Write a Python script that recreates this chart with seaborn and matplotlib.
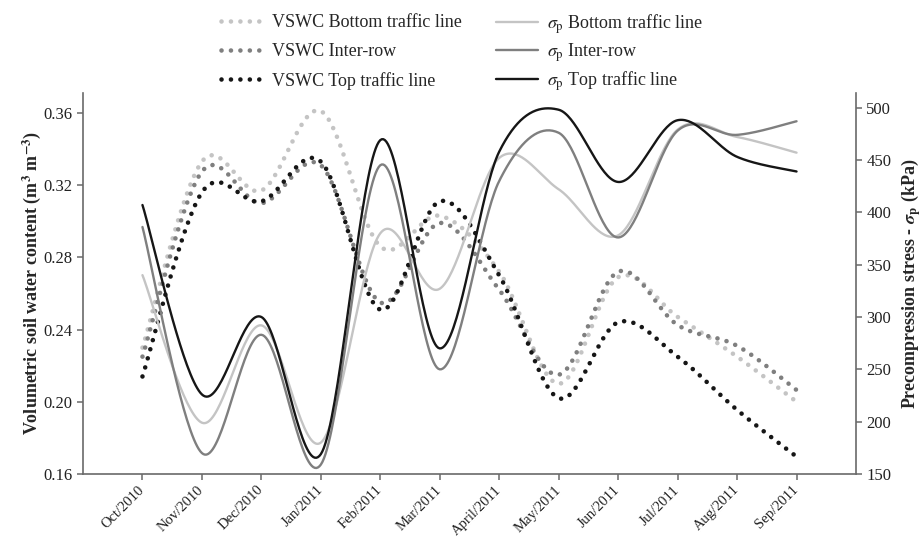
import numpy as np
import pandas as pd
import matplotlib
matplotlib.use("Agg")
import matplotlib.pyplot as plt
import seaborn as sns

# monthly readings, Oct/2010 .. Sep/2011
months = ["Oct/2010", "Nov/2010", "Dec/2010", "Jan/2011", "Feb/2011", "Mar/2011",
          "April/2011", "May/2011", "Jun/2011", "Jul/2011", "Aug/2011", "Sep/2011"]

# volumetric soil water content (m3 m-3)
vswc_bottom = [0.230, 0.333, 0.317, 0.361, 0.286, 0.303, 0.272, 0.210, 0.269, 0.247, 0.225, 0.200]
vswc_inter = [0.225, 0.3275, 0.310, 0.331, 0.255, 0.299, 0.262, 0.215, 0.272, 0.2425, 0.231, 0.2065]
vswc_top = [0.214, 0.316, 0.311, 0.333, 0.251, 0.311, 0.270, 0.202, 0.244, 0.225, 0.1955, 0.1696]

# precompression stress (kPa)
sigma_bottom = [340, 199, 292, 180, 380, 327, 452, 422, 378, 479, 472, 457]
sigma_inter = [386, 170, 283, 159, 445, 250, 430, 476, 376, 478, 474, 487]
sigma_top = [407, 226, 300, 169, 469, 270, 458, 498, 429, 488, 453, 439]

positions = list(range(len(months)))

LIGHT, MID, DARK = "#c4c4c4", "#7f7f7f", "#161616"


def smooth(xs, ys, n=40):
    """Excel style smoothed line: cubic Bezier with Catmull-Rom control points."""
    p = np.column_stack([xs, ys]).astype(float)
    pad = np.vstack([p[:1], p, p[-1:]])
    out = [p[:1]]
    t = np.linspace(0, 1, n)[1:, None]
    for i in range(len(p) - 1):
        p0, p3 = pad[i + 1], pad[i + 2]
        c1 = p0 + (pad[i + 2] - pad[i]) / 6
        c2 = p3 - (pad[i + 3] - pad[i + 1]) / 6
        seg = ((1 - t) ** 3) * p0 + 3 * ((1 - t) ** 2) * t * c1 + 3 * (1 - t) * t ** 2 * c2 + t ** 3 * p3
        out.append(seg)
    pts = np.vstack(out)
    return pd.DataFrame({"x": pts[:, 0], "y": pts[:, 1]})


sns.set_style("ticks")
plt.rcParams["font.family"] = ["Liberation Serif", "DejaVu Serif"]
plt.rcParams["mathtext.fontset"] = "stix"

fig = plt.figure(figsize=(9.22, 5.37), dpi=100)
ax = fig.add_axes([83 / 922, 1 - 474 / 537, (856 - 83) / 922, (474 - 93) / 537])
ax2 = ax.twinx()

dot = (0, (0.01, 2.05))
vswc_handles = []
for vals, col, lab in [(vswc_bottom, LIGHT, "VSWC Bottom traffic line"),
                       (vswc_inter, MID, "VSWC Inter-row"),
                       (vswc_top, DARK, "VSWC Top traffic line")]:
    d = smooth(positions, vals)
    sns.lineplot(data=d, x="x", y="y", ax=ax, sort=False, color=col, linewidth=3.3,
                 linestyle=dot, dash_capstyle="round", label=lab, legend=False)
    vswc_handles.append(ax.lines[-1])

sigma_handles = []
for vals, col, lab in [(sigma_bottom, LIGHT, r"$\sigma_{\mathrm{p}}$ Bottom traffic line"),
                       (sigma_inter, MID, r"$\sigma_{\mathrm{p}}$ Inter-row"),
                       (sigma_top, DARK, r"$\sigma_{\mathrm{p}}$ Top traffic line")]:
    d = smooth(positions, vals)
    sns.lineplot(data=d, x="x", y="y", ax=ax2, sort=False, color=col, linewidth=1.7,
                 label=lab, legend=False)
    sigma_handles.append(ax2.lines[-1])

ax.set_xlim(-1, 12)
ax.set_ylim(0.16, 0.371)
ax.set_yticks(np.arange(0.16, 0.361, 0.04))
ax.yaxis.set_major_formatter(matplotlib.ticker.FormatStrFormatter("%.2f"))
ax2.set_ylim(150, 514)
ax2.set_yticks(range(150, 501, 50))

ax.set_xticks(positions)
ax.set_xticklabels(months, rotation=45, ha="right", va="center", rotation_mode="anchor")
ax.set_xlabel("")
ax.set_ylabel(r"Volumetric soil water content (m$^{\mathbf{3}}$ m$^{\mathbf{-3}}$)",
              fontsize=13, fontweight="bold", labelpad=0)
ax2.set_xlabel("")
ax2.set_ylabel(r"Precompression stress - $\boldsymbol{\sigma}_{\mathbf{p}}$ (kPa)",
               fontsize=13, fontweight="bold", labelpad=6)

for a in (ax, ax2):
    for s in a.spines.values():
        s.set_color("#6a6a6a")
        s.set_linewidth(1.2)
    a.spines["top"].set_visible(False)
    a.tick_params(labelsize=12, length=4, width=1.1, color="#6a6a6a", labelcolor="#222222")
ax.spines["right"].set_visible(False)
ax2.spines["left"].set_visible(False)
ax2.spines["bottom"].set_visible(False)
ax.tick_params(axis="x", labelsize=10.5, pad=6)

leg_kw = dict(loc="upper left", frameon=False, fontsize=13, handlelength=2.3,
              handletextpad=0.5, borderpad=0)
leg1 = fig.legend(handles=vswc_handles, bbox_to_anchor=(212 / 922, 1 - 5 / 537),
                  labelspacing=0.66, **leg_kw)
leg2 = fig.legend(handles=sigma_handles, bbox_to_anchor=(487 / 922, 1 - 3 / 537),
                  labelspacing=0.3, **leg_kw)

fig.savefig("out.png", dpi=100)
